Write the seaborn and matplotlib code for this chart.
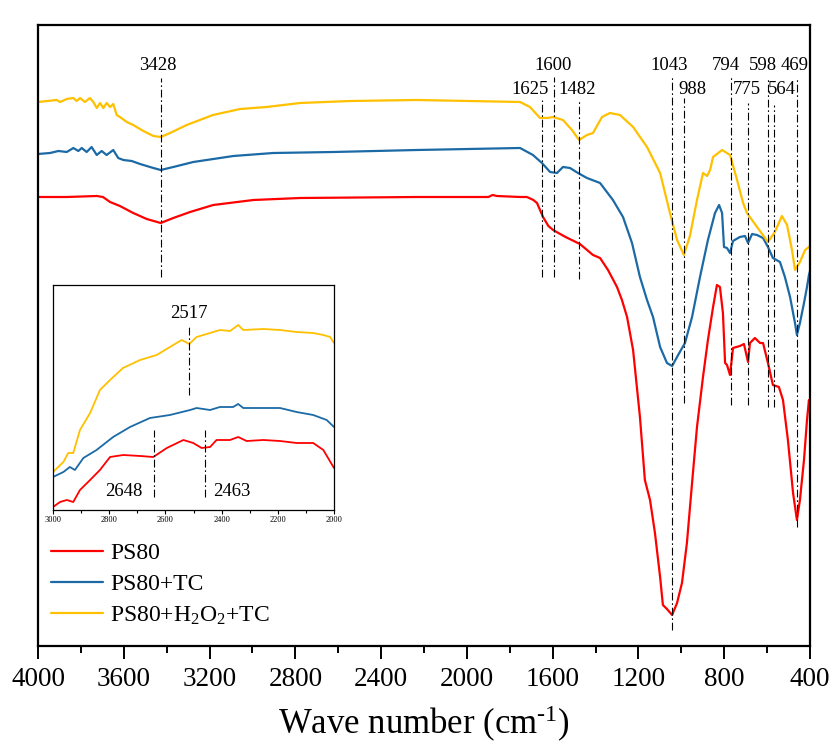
import numpy as np
import pandas as pd
import matplotlib
matplotlib.use("Agg")
import matplotlib.pyplot as plt
import seaborn as sns
from matplotlib.ticker import MultipleLocator
from matplotlib.lines import Line2D

# ---------------- data (arbitrary transmittance units) ----------------
samples = ["PS80", "PS80+TC", "PS80+H$_2$O$_2$+TC"]
colors = ["#FF0000", "#1B6AA6", "#FFC000"]

ps80_wn = [4000, 3866, 3726, 3697, 3664, 3618, 3556, 3493, 3428, 3369, 3291, 3183, 2996, 2778,
           2234, 1900, 1880, 1860, 1752, 1720, 1690, 1673, 1645, 1620, 1598, 1540, 1473, 1412,
           1379, 1342, 1300, 1277, 1253, 1225, 1193, 1170, 1146, 1123, 1099, 1086, 1067, 1043,
           1020, 997, 974, 950, 927, 899, 876, 852, 834, 820, 806, 796, 787, 773, 759, 727, 708,
           689, 680, 657, 633, 619, 596, 573, 545, 526, 503, 479, 461, 447, 428, 414, 405, 400]
ps80_val = [449, 449, 450, 449, 444, 440, 433, 427, 423, 428, 434, 441, 446, 448,
            449, 449, 451, 450, 449, 449, 446, 443, 429, 420, 416, 409, 402, 391,
            388, 376, 359, 346, 329, 296, 229, 166, 146, 113, 69, 41, 37, 31,
            43, 63, 103, 163, 219, 269, 306, 339, 361, 359, 333, 283, 281, 271, 298, 300, 302,
            284, 303, 308, 303, 303, 283, 261, 259, 246, 206, 153, 126, 146, 186, 226, 246, 240]

tc_wn = [4000, 3944, 3905, 3866, 3835, 3812, 3796, 3773, 3750, 3726, 3703, 3680, 3649, 3626,
         3602, 3563, 3524, 3462, 3428, 3369, 3276, 3089, 2903, 2623, 2234, 1752, 1692, 1650,
         1612, 1580, 1552, 1519, 1482, 1440, 1379, 1319, 1272, 1230, 1193, 1160, 1132, 1099,
         1067, 1043, 1015, 983, 950, 913, 876, 843, 824, 810, 801, 787, 773, 759, 727, 703,
         689, 670, 647, 619, 596, 573, 540, 517, 493, 470, 461, 447, 428, 414, 405, 400]
tc_val = [492, 493, 495, 494, 498, 495, 498, 494, 499, 491, 495, 491, 496, 488,
          486, 485, 482, 478, 476, 479, 484, 490, 493, 494, 496, 498, 491, 483,
          474, 473, 479, 478, 473, 468, 463, 446, 429, 403, 369, 346, 329, 299,
          283, 280, 291, 303, 329, 369, 406, 433, 441, 433, 399, 398, 393, 405, 409, 410,
          403, 412, 411, 408, 399, 388, 384, 369, 349, 323, 311, 323, 343, 359, 371, 375]

h2o2_wn = [4000, 3913, 3897, 3866, 3835, 3820, 3804, 3781, 3758, 3742, 3726, 3711, 3695, 3680,
           3664, 3649, 3633, 3618, 3586, 3556, 3509, 3462, 3428, 3384, 3307, 3184, 3058, 2934,
           2778, 2545, 2234, 1752, 1706, 1659, 1625, 1598, 1552, 1510, 1477, 1440, 1412, 1370,
           1333, 1286, 1225, 1160, 1099, 1053, 1020, 988, 960, 927, 899, 880, 866, 852, 810,
           773, 740, 712, 694, 647, 596, 564, 531, 507, 484, 470, 447, 423, 405, 400]
h2o2_val = [544, 546, 544, 547, 548, 545, 548, 544, 548, 544, 538, 543, 538, 543,
            539, 542, 531, 529, 524, 521, 515, 510, 509, 513, 521, 531, 537, 539,
            543, 545, 546, 544, 539, 528, 528, 529, 526, 516, 506, 511, 513, 529,
            533, 531, 519, 499, 473, 433, 406, 391, 410, 446, 473, 470, 476, 489, 496,
            491, 466, 443, 433, 419, 404, 414, 430, 421, 396, 376, 384, 396, 399, 400]

# inset (3000-2000 cm-1)
in_ps80_wn = [3000, 2975, 2951, 2928, 2904, 2868, 2833, 2797, 2750, 2690, 2643, 2595, 2536,
              2501, 2471, 2441, 2418, 2370, 2341, 2311, 2252, 2192, 2133, 2074, 2038, 2000]
in_ps80_val = [3, 8, 10, 8, 20, 30, 40, 53, 55, 54, 53, 62, 70, 67, 62, 63, 70, 70, 73, 69,
               70, 69, 67, 67, 60, 42]
in_tc_wn = [3000, 2963, 2940, 2922, 2892, 2845, 2786, 2726, 2655, 2584, 2512, 2489, 2441,
            2406, 2359, 2341, 2323, 2252, 2192, 2133, 2074, 2026, 2000]
in_tc_val = [33, 38, 43, 40, 52, 60, 73, 83, 92, 95, 100, 102, 100, 103, 103, 106, 102, 102,
             102, 98, 95, 90, 83]
in_h2o2_wn = [3000, 2963, 2946, 2928, 2904, 2868, 2833, 2797, 2751, 2690, 2631, 2584, 2542,
              2515, 2489, 2441, 2406, 2370, 2341, 2323, 2252, 2192, 2133, 2074, 2038, 2014, 2000]
in_h2o2_val = [38, 48, 57, 57, 80, 97, 120, 130, 142, 150, 155, 163, 170, 166, 173, 177, 180,
               179, 185, 180, 181, 180, 178, 177, 175, 173, 167]

# peak annotations (main)
main_peaks = [3428, 1650, 1594, 1477, 1043, 988, 770, 689, 596, 568, 462]
main_labels = ["3428", "1625", "1600", "1482", "1043", "988", "794", "775", "598", "564", "469"]
main_label_x = [3440, 1706, 1598, 1487, 1057, 950, 792, 694, 619, 531, 470]
main_label_y = [580, 557, 581, 557, 581, 557, 581, 557, 581, 557, 581]
main_line_top = [568, 546, 569, 546, 569, 548, 569, 543, 569, 541, 569]
main_line_bot = [369, 369, 369, 367, 16, 243, 241, 241, 239, 239, 119]

# peak annotations (inset)
in_peaks = [2515, 2642, 2459]
in_labels = ["2517", "2648", "2463"]
in_label_x = [2515, 2680, 2431]
in_label_y = [197, 18, 18]
in_label_ha = ["center", "right", "left"]
in_line_top = [183, 80, 80]
in_line_bot = [115, 13, 13]

# ---------------- plotting ----------------
sns.set_theme(style="ticks")
plt.rcParams["font.family"] = ["Liberation Serif", "DejaVu Serif"]
plt.rcParams["mathtext.fontset"] = "custom"
plt.rcParams["mathtext.rm"] = "Liberation Serif"
plt.rcParams["mathtext.default"] = "regular"
plt.rcParams["axes.edgecolor"] = "black"
plt.rcParams["xtick.color"] = "black"
plt.rcParams["text.color"] = "black"
plt.rcParams["axes.labelcolor"] = "black"

def long_df(wns, vals):
    frames = []
    for name, w, v in zip(samples, wns, vals):
        frames.append(pd.DataFrame({"wn": w, "val": v, "sample": name}))
    return pd.concat(frames, ignore_index=True)

main_df = long_df([ps80_wn, tc_wn, h2o2_wn], [ps80_val, tc_val, h2o2_val])
inset_df = long_df([in_ps80_wn, in_tc_wn, in_h2o2_wn], [in_ps80_val, in_tc_val, in_h2o2_val])
palette = dict(zip(samples, colors))

fig = plt.figure(figsize=(8.3, 7.46), dpi=100)
ax = fig.add_axes([38 / 830, 100 / 746, 772 / 830, 621 / 746])

sns.lineplot(data=main_df, x="wn", y="val", hue="sample", hue_order=samples, palette=palette,
             estimator=None, sort=False, linewidth=1.6, legend=False, ax=ax)

dash = (0, (7, 2.5, 1.5, 2.5))
for p, lab, lx, ly, t, b in zip(main_peaks, main_labels, main_label_x, main_label_y,
                                main_line_top, main_line_bot):
    ax.plot([p, p], [b, t], color="black", lw=0.8, ls=dash)
    ax.text(lx, ly, lab, ha="center", va="center", fontsize=13.5)

ax.set_xlim(4000, 400)
ax.set_ylim(0, 621)
ax.set_yticks([])
ax.xaxis.set_major_locator(MultipleLocator(400))
ax.xaxis.set_minor_locator(MultipleLocator(200))
ax.tick_params(axis="x", which="major", direction="out", length=9, width=1.4,
               labelsize=19.5, pad=6, bottom=True, top=False)
ax.tick_params(axis="x", which="minor", direction="out", length=5, width=1.4,
               bottom=True, top=False)
ax.tick_params(axis="y", left=False, right=False)
for s in ax.spines.values():
    s.set_linewidth(1.6)
    s.set_color("black")
ax.set_xlabel(r"Wave number (cm$^{\text{-1}}$)", fontsize=25, labelpad=9)
ax.set_ylabel("")

handles = [Line2D([0], [0], color=c, lw=1.6) for c in colors]
ax.legend(handles, samples, loc="upper left", bbox_to_anchor=(0.017, 0.167), frameon=False,
          fontsize=17, handlelength=2.2, handletextpad=0.3, labelspacing=0.4,
          borderaxespad=0, borderpad=0)

# inset
axi = fig.add_axes([53 / 830, 236 / 746, 281 / 830, 225 / 746])
sns.lineplot(data=inset_df, x="wn", y="val", hue="sample", hue_order=samples, palette=palette,
             estimator=None, sort=False, linewidth=1.3, legend=False, ax=axi)
for p, lab, lx, ly, ha, t, b in zip(in_peaks, in_labels, in_label_x, in_label_y, in_label_ha,
                                    in_line_top, in_line_bot):
    axi.plot([p, p], [b, t], color="black", lw=0.8, ls=dash)
    axi.text(lx, ly, lab, ha=ha, va="center", fontsize=13.5)
axi.set_xlim(3000, 2000)
axi.set_ylim(0, 225)
axi.set_yticks([])
axi.xaxis.set_major_locator(MultipleLocator(200))
axi.xaxis.set_minor_locator(MultipleLocator(100))
axi.tick_params(axis="x", which="major", direction="out", length=3, width=0.8,
                labelsize=6, pad=1.5, bottom=True)
axi.tick_params(axis="x", which="minor", direction="out", length=2, width=0.8, bottom=True)
axi.tick_params(axis="y", left=False)
for s in axi.spines.values():
    s.set_linewidth(0.9)
    s.set_color("black")
axi.set_xlabel("")
axi.set_ylabel("")

fig.savefig("out.png", dpi=100)
